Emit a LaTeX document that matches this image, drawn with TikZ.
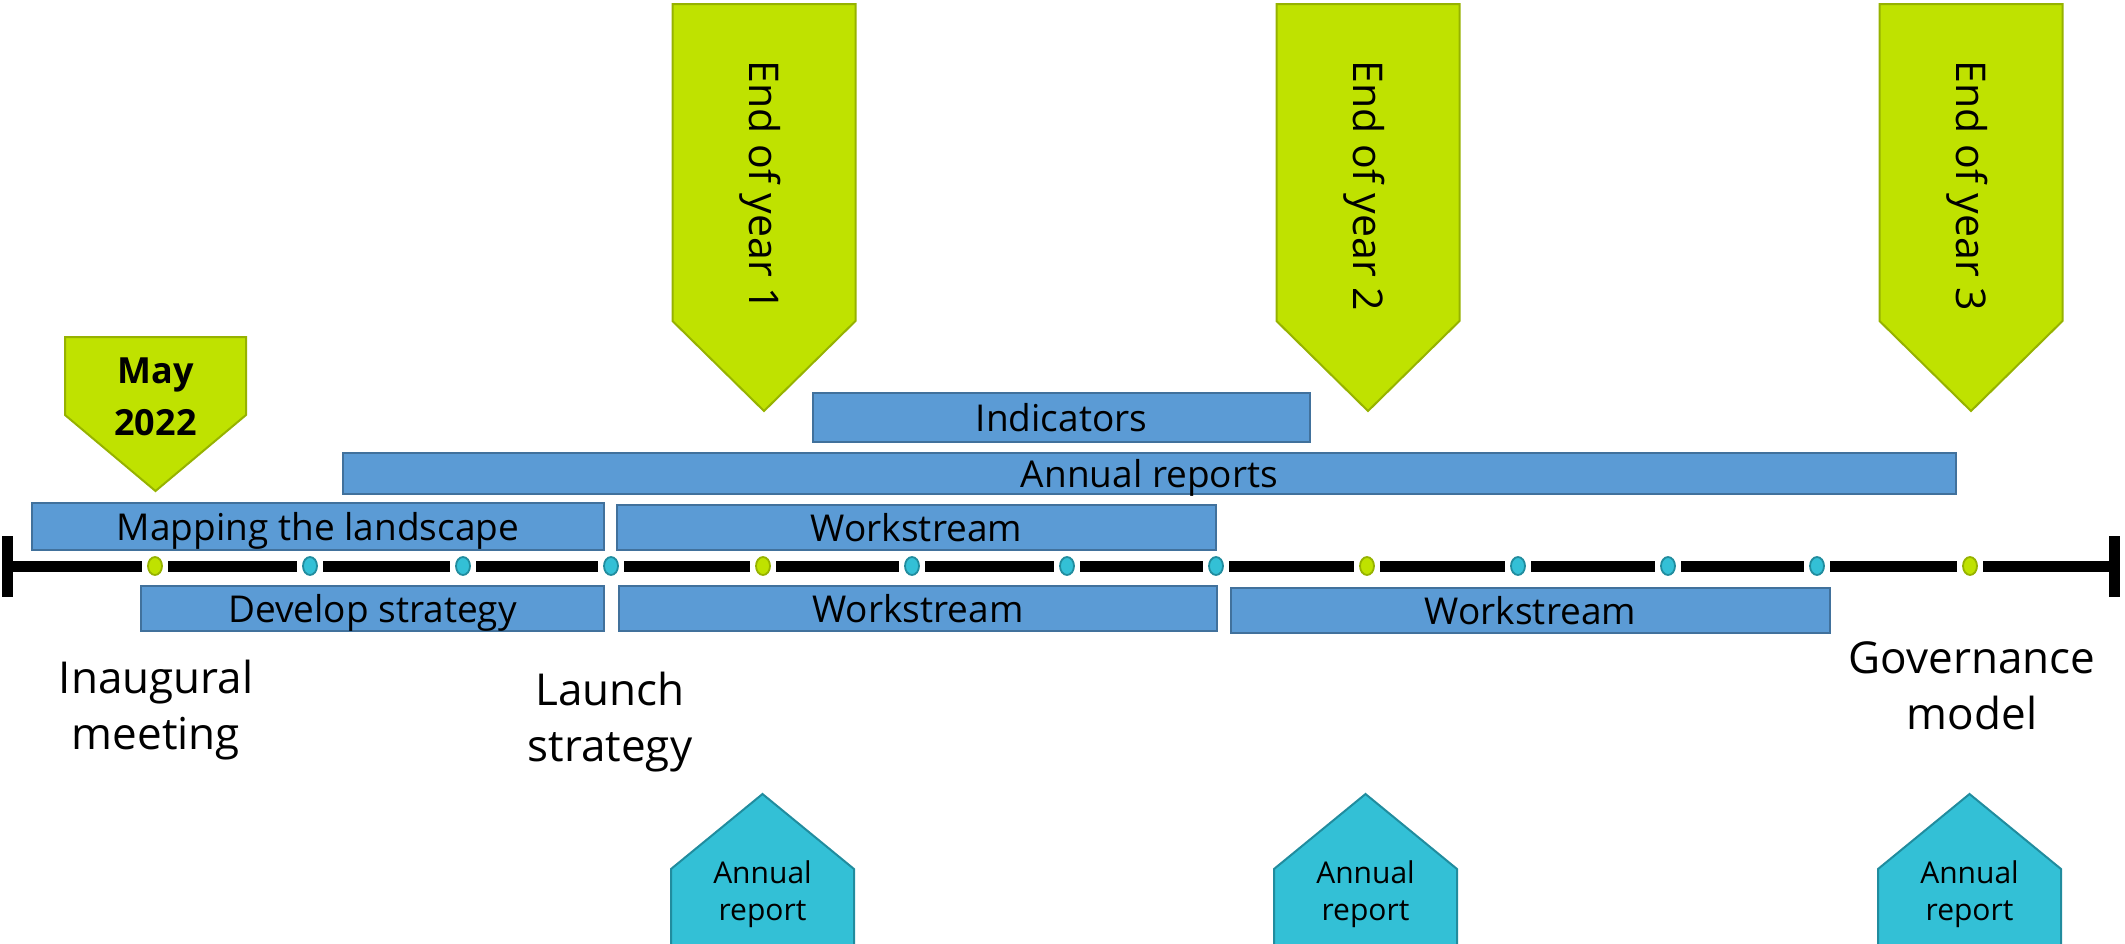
\documentclass[tikz,border=0pt]{standalone}
\usepackage{fontspec}
\setmainfont{Open Sans}
\usetikzlibrary{shapes.geometric}
\definecolor{barfill}{RGB}{91,155,213}
\definecolor{barline}{RGB}{65,113,156}
\definecolor{grfill}{RGB}{191,226,0}
\definecolor{grline}{RGB}{150,178,0}
\definecolor{cyfill}{RGB}{51,192,214}
\definecolor{cyline}{RGB}{33,140,158}
\newcommand\twoline[2]{\vtop{\halign{\hfil##\hfil\cr#1\cr#2\cr}}}
\begin{document}
\begin{tikzpicture}[x=1bp,y=-1bp,
  bar/.style={draw=barline, fill=barfill, line width=2.5bp, inner sep=0pt,
    text height=27bp, text depth=0bp, font=\fontsize{37bp}{44bp}\selectfont},
  greenarrow/.style={draw=grline, fill=grfill, line width=2bp, line join=miter},
  cyanarrow/.style={draw=cyline, fill=cyfill, line width=2bp, line join=miter},
  rottext/.style={rotate=-90, inner sep=0pt, text height=29bp, text depth=0bp,
    font=\fontsize{41bp}{48bp}\selectfont},
  arlabel/.style={anchor=base, inner sep=0pt, font=\fontsize{30bp}{37bp}\selectfont},
  milelabel/.style={anchor=base, inner sep=0pt, font=\fontsize{44bp}{56bp}\selectfont},
  gdot/.style={ellipse, draw=grline, fill=grfill, line width=1.8bp, minimum width=14bp,
    minimum height=18bp, inner sep=0pt, outer sep=6bp},
  cdot/.style={ellipse, draw=cyline, fill=cyfill, line width=1.8bp, minimum width=14bp,
    minimum height=18bp, inner sep=0pt, outer sep=6bp},
  tick/.style={fill=black, minimum width=11bp, minimum height=61bp, inner sep=0pt, outer sep=0pt},
  tl/.style={line width=11bp, black}]
\useasboundingbox (0,0) rectangle (2125,944);

% green "end of year" arrows
\foreach \c/\n in {764/1,1368/2,1971/3}{
  \path[greenarrow] (\c-91.5,4) -- (\c+91.5,4) -- (\c+91.5,321) -- (\c,411) -- (\c-91.5,321) -- cycle;
  \node[rottext] (eoy\n) at (\c,186) {End of year \n};
}
% May 2022 arrow
\path[greenarrow] (65,337) -- (246,337) -- (246,415) -- (155.5,491) -- (65,415) -- cycle;
\node[anchor=base, inner sep=0pt, font=\fontsize{36bp}{52bp}\selectfont\bfseries] (may) at (155.5,383) {\twoline{May}{2022}};

% cyan annual report arrows
\foreach \c/\n in {762.5/1,1365.5/2,1969.5/3}{
  \path[cyanarrow] (\c-91.5,950) -- (\c-91.5,869) -- (\c,794) -- (\c+91.5,869) -- (\c+91.5,950) -- cycle;
  \node[arlabel] (ar\n) at (\c,883) {\twoline{Annual}{report}};
}

% bars
\node[bar, minimum width=497bp, minimum height=49bp] (ind) at (1061.5,417.5) {Indicators};
\node[bar, minimum width=1613bp, minimum height=41bp] (ann) at (1149.5,473.5) {Annual reports};
\node[bar, minimum width=572bp, minimum height=47bp] (map) at (318,526.5) {Mapping the landscape};
\node[bar, minimum width=599bp, minimum height=45bp] (ws1) at (916.5,527.5) {Workstream};
\node[bar, minimum width=463bp, minimum height=45bp] (dev) at (372.5,608.5) {Develop strategy};
\node[bar, minimum width=598bp, minimum height=45bp] (ws2) at (918,608.5) {Workstream};
\node[bar, minimum width=599bp, minimum height=45bp] (ws3) at (1530.5,610.5) {Workstream};

% timeline
\node[tick] (tL) at (7.5,566) {};
\node[tick] (tR) at (2114.5,566) {};
\foreach \x/\s [count=\i from 0] in {155/g,310/c,463/c,611/c,763/g,912/c,1067/c,1216/c,1367/g,1518/c,1668/c,1817/c,1970/g}{
  \node[\s dot] (d\i) at (\x,566) {};
}
\draw[tl] (tL) -- (d0);
\foreach \a [count=\b from 1] in {0,...,11}{
  \draw[tl] (d\a) -- (d\b);
}
\draw[tl] (d12) -- (tR);

% milestone labels
\node[milelabel] (inaug) at (156,693) {\twoline{Inaugural}{meeting}};
\node[milelabel] (launch) at (610,705) {\twoline{Launch}{strategy}};
\node[milelabel] (gov) at (1972,673) {\twoline{Governance}{model}};
\end{tikzpicture}
\end{document}
